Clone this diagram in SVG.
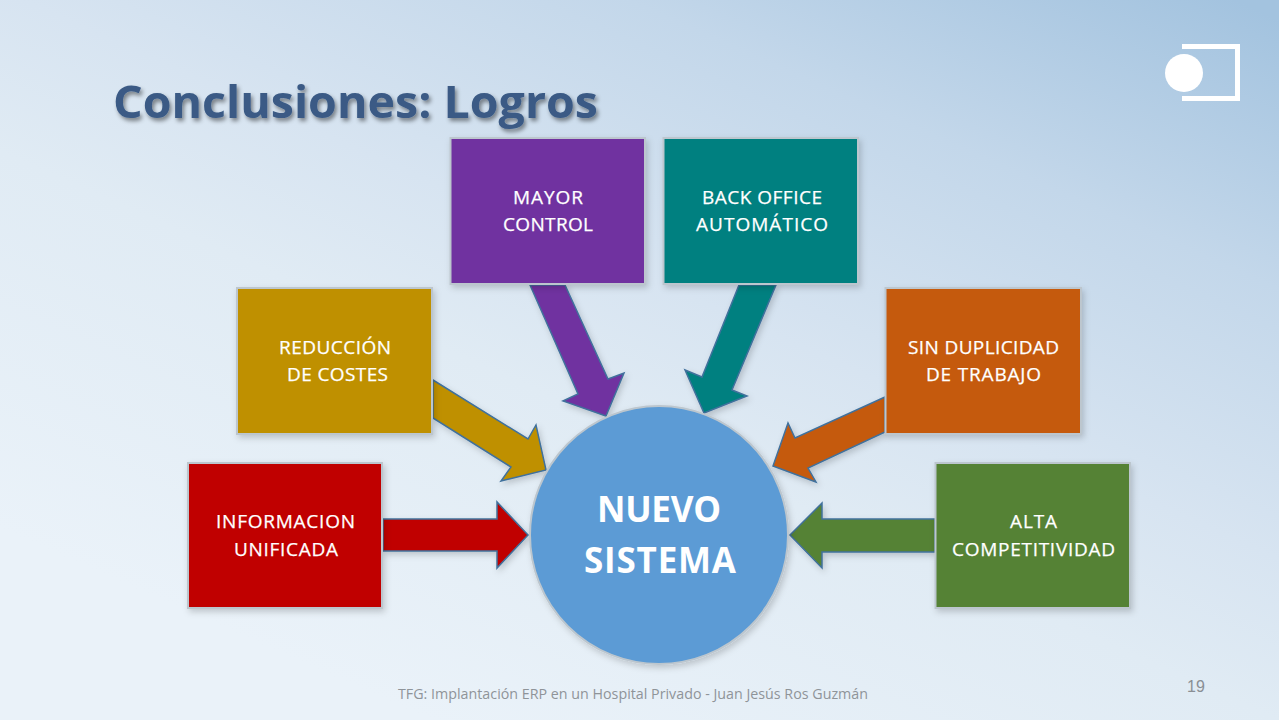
<svg xmlns="http://www.w3.org/2000/svg" width="1279" height="720" viewBox="0 0 1279 720">
<defs>
<linearGradient id="bg" gradientUnits="userSpaceOnUse" x1="1100" y1="-60" x2="700" y2="840">
<stop offset="0" stop-color="#a3c3df"/>
<stop offset="0.25" stop-color="#c3d7ea"/>
<stop offset="0.5" stop-color="#d7e4f1"/>
<stop offset="0.65" stop-color="#e0ebf4"/>
<stop offset="1.1" stop-color="#eaf2f9"/>
</linearGradient>
<filter id="sh" x="-15%" y="-15%" width="130%" height="130%"><feDropShadow dx="2" dy="3" stdDeviation="3" flood-color="#000" flood-opacity="0.18"/></filter>
<filter id="ts" x="-5%" y="-20%" width="110%" height="150%"><feDropShadow dx="2" dy="3" stdDeviation="2.2" flood-color="#000" flood-opacity="0.45"/></filter>
</defs>
<style>
.box{stroke:#bcc6ce;stroke-width:2;filter:url(#sh)}
.arr{stroke:#41719c;stroke-width:1.5;stroke-linejoin:miter;filter:url(#sh)}
.lbl{font-family:"Open Sans","Noto Sans",sans-serif;font-size:19px;fill:#fff;stroke:#fff;stroke-width:0.25;lengthAdjust:spacing}
.big{font-family:"Open Sans","Noto Sans",sans-serif;font-size:35px;font-weight:700;fill:#fff}
</style>
<rect width="1279" height="720" fill="url(#bg)"/>
<g id="logo">
<path d="M1182 46.500H1237.500V98.500H1182" fill="none" stroke="#fff" stroke-width="5"/>
<circle cx="1184" cy="73" r="19" fill="#fff"/>
</g>
<text id="title" x="113" y="118" font-family="'Open Sans','Noto Sans',sans-serif" font-size="45" font-weight="700" fill="#3a5a85" filter="url(#ts)" textLength="485" lengthAdjust="spacingAndGlyphs">Conclusiones: Logros</text>
<g id="connectors">
<path class="arr" fill="#c00000" d="M383 519H497V502L528 535L497 568V551H383Z"/>
<path class="arr" fill="#bf9000" d="M433 380L528 439L536 425L546 470L501 481L511 467L433 418Z"/>
<path class="arr" fill="#7030a0" d="M530 285H565L608 379L624 373L606 416L563 401L578 394Z"/>
<path class="arr" fill="#008080" d="M739 285H776L732 390L747 396L704 413L685 370L702 377Z"/>
<path class="arr" fill="#c55a11" d="M885 397L795 438L788 423L773 466L816 482L808 468L885 432Z"/>
<path class="arr" fill="#548235" d="M935 519H822V503L790 535L822 568V552H935Z"/>
</g>
<g id="node-informacion"><rect class="box" x="188" y="463" width="194" height="145" fill="#c00000"/><text class="lbl" x="216" y="528" textLength="139">INFORMACION</text><text class="lbl" x="234" y="556" textLength="104">UNIFICADA</text></g>
<g id="node-reduccion"><rect class="box" x="237" y="288" width="195" height="146" fill="#bf9000"/><text class="lbl" x="279" y="354" textLength="112">REDUCCIÓN</text><text class="lbl" x="287" y="381" textLength="101">DE COSTES</text></g>
<g id="node-control"><rect class="box" x="450.500" y="138" width="194.500" height="146" fill="#7030a0"/><text class="lbl" x="513" y="204" textLength="70">MAYOR</text><text class="lbl" x="503" y="231" textLength="90">CONTROL</text></g>
<g id="node-backoffice"><rect class="box" x="663.500" y="138" width="194.500" height="146" fill="#008080"/><text class="lbl" x="702" y="204" textLength="120">BACK OFFICE</text><text class="lbl" x="696" y="231" textLength="132">AUTOMÁTICO</text></g>
<g id="node-duplicidad"><rect class="box" x="885.500" y="288" width="195.500" height="146" fill="#c55a11"/><text class="lbl" x="908" y="354" textLength="151">SIN DUPLICIDAD</text><text class="lbl" x="926" y="381" textLength="115">DE TRABAJO</text></g>
<g id="node-competitividad"><rect class="box" x="935.500" y="463" width="194.500" height="145" fill="#548235"/><text class="lbl" x="1010" y="528" textLength="47">ALTA</text><text class="lbl" x="952" y="556" textLength="163">COMPETITIVIDAD</text></g>
<g id="node-sistema"><circle class="box" cx="659" cy="535" r="129" fill="#5b9bd5"/><text class="big" x="597" y="522" textLength="124">NUEVO</text><text class="big" x="584" y="573" textLength="152">SISTEMA</text></g>
<text id="footer" x="398" y="699" font-family="'Open Sans','Noto Sans',sans-serif" font-size="14" fill="#8f9499" textLength="470" lengthAdjust="spacingAndGlyphs">TFG: Implantación ERP en un Hospital Privado - Juan Jesús Ros Guzmán</text>
<text id="page" x="1196" y="692" font-family="'Liberation Sans',sans-serif" font-size="16" fill="#8a8f94" text-anchor="middle">19</text>
</svg>
